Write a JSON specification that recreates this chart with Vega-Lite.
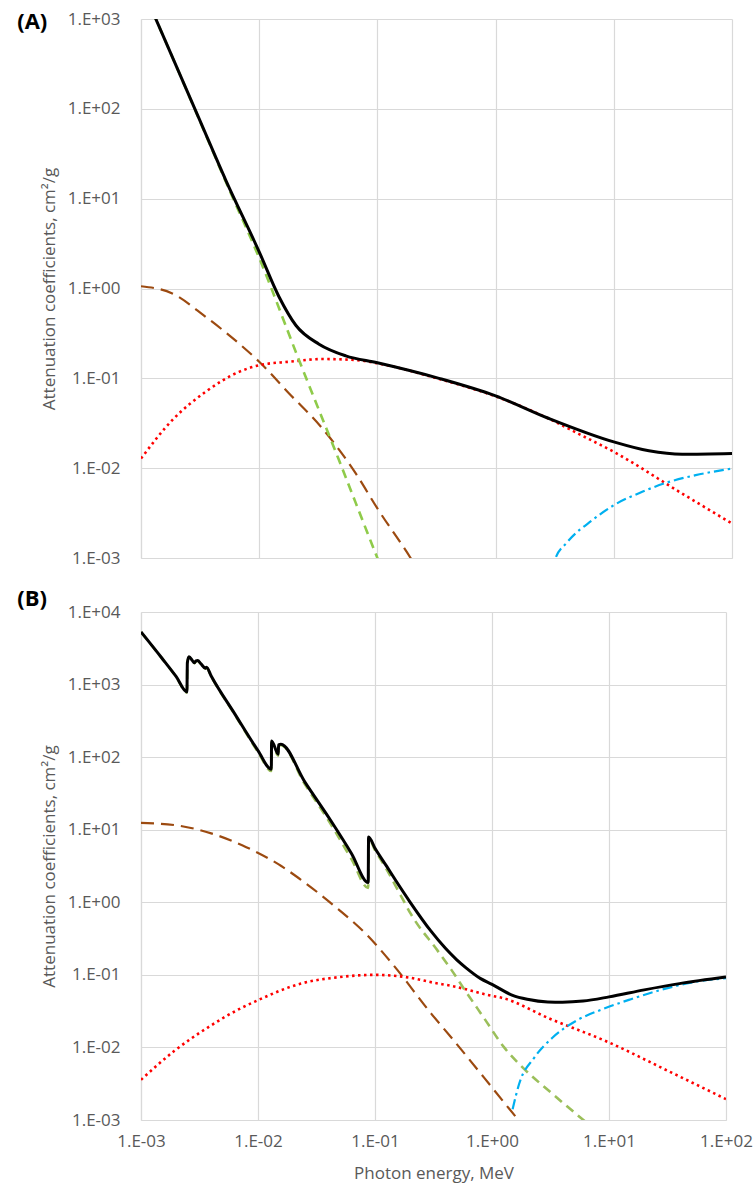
{
  "$schema": "https://vega.github.io/schema/vega-lite/v6.json",
  "padding": {"left": 17, "top": 10, "right": 0, "bottom": 5},
  "spacing": 22,
  "resolve": {"scale": {"x": "independent", "y": "independent"}},
  "config": {
    "font": "Open Sans",
    "view": {"stroke": null},
    "axis": {
      "gridColor": "#d9d9d9", "gridWidth": 1.2, "domainColor": "#d9d9d9", "domainWidth": 1.2,
      "ticks": false, "tickSize": 0, "labelColor": "#595959", "labelFontSize": 17, "labelFont": "Open Sans",
      "titleFont": "Open Sans", "titleColor": "#595959", "titleFontSize": 17, "titleFontWeight": "normal",
      "labelOverlap": false, "labelFlush": false
    }
  },
  "datasets": {
    "curves": [
      {"p": "A", "s": "tot", "E": 0.001, "mu": 2400},
      {"p": "A", "s": "tot", "E": 0.00316, "mu": 73.5},
      {"p": "A", "s": "tot", "E": 0.00521, "mu": 16.1},
      {"p": "A", "s": "tot", "E": 0.01, "mu": 2.56},
      {"p": "A", "s": "tot", "E": 0.0147, "mu": 0.81},
      {"p": "A", "s": "tot", "E": 0.0204, "mu": 0.39},
      {"p": "A", "s": "tot", "E": 0.0321, "mu": 0.24},
      {"p": "A", "s": "tot", "E": 0.054, "mu": 0.178},
      {"p": "A", "s": "tot", "E": 0.1, "mu": 0.149},
      {"p": "A", "s": "tot", "E": 0.332, "mu": 0.1},
      {"p": "A", "s": "tot", "E": 1, "mu": 0.0638},
      {"p": "A", "s": "tot", "E": 2.83, "mu": 0.0357},
      {"p": "A", "s": "tot", "E": 10, "mu": 0.0196},
      {"p": "A", "s": "tot", "E": 19.8, "mu": 0.0156},
      {"p": "A", "s": "tot", "E": 37.9, "mu": 0.0143},
      {"p": "A", "s": "tot", "E": 100, "mu": 0.0146},

      {"p": "A", "s": "inc", "E": 0.001, "mu": 0.0128},
      {"p": "A", "s": "inc", "E": 0.00184, "mu": 0.0343},
      {"p": "A", "s": "inc", "E": 0.00352, "mu": 0.0708},
      {"p": "A", "s": "inc", "E": 0.00675, "mu": 0.118},
      {"p": "A", "s": "inc", "E": 0.01, "mu": 0.14},
      {"p": "A", "s": "inc", "E": 0.0179, "mu": 0.153},
      {"p": "A", "s": "inc", "E": 0.0342, "mu": 0.164},
      {"p": "A", "s": "inc", "E": 0.0656, "mu": 0.16},
      {"p": "A", "s": "inc", "E": 0.1, "mu": 0.147},
      {"p": "A", "s": "inc", "E": 0.332, "mu": 0.0985},
      {"p": "A", "s": "inc", "E": 1, "mu": 0.063},
      {"p": "A", "s": "inc", "E": 3, "mu": 0.0342},
      {"p": "A", "s": "inc", "E": 5.01, "mu": 0.0242},
      {"p": "A", "s": "inc", "E": 10, "mu": 0.0152},
      {"p": "A", "s": "inc", "E": 37.8, "mu": 0.00522},
      {"p": "A", "s": "inc", "E": 100, "mu": 0.00242},

      {"p": "A", "s": "coh", "E": 0.001, "mu": 1.06},
      {"p": "A", "s": "coh", "E": 0.00184, "mu": 0.881},
      {"p": "A", "s": "coh", "E": 0.00352, "mu": 0.484},
      {"p": "A", "s": "coh", "E": 0.00675, "mu": 0.244},
      {"p": "A", "s": "coh", "E": 0.01, "mu": 0.153},
      {"p": "A", "s": "coh", "E": 0.0179, "mu": 0.0679},
      {"p": "A", "s": "coh", "E": 0.0342, "mu": 0.0277},
      {"p": "A", "s": "coh", "E": 0.0656, "mu": 0.00873},
      {"p": "A", "s": "coh", "E": 0.1, "mu": 0.00356},
      {"p": "A", "s": "coh", "E": 0.191, "mu": 0.001},
      {"p": "A", "s": "coh", "E": 0.251, "mu": 0.00056},

      {"p": "A", "s": "pe", "E": 0.001, "mu": 2390},
      {"p": "A", "s": "pe", "E": 0.00316, "mu": 72.4},
      {"p": "A", "s": "pe", "E": 0.00521, "mu": 15.5},
      {"p": "A", "s": "pe", "E": 0.01, "mu": 2.19},
      {"p": "A", "s": "pe", "E": 0.0217, "mu": 0.16},
      {"p": "A", "s": "pe", "E": 0.0473, "mu": 0.0123},
      {"p": "A", "s": "pe", "E": 0.1, "mu": 0.001},
      {"p": "A", "s": "pe", "E": 0.126, "mu": 0.00047},

      {"p": "A", "s": "pp", "E": 2.9, "mu": 0.00062},
      {"p": "A", "s": "pp", "E": 3.2, "mu": 0.00098},
      {"p": "A", "s": "pp", "E": 4.0, "mu": 0.00148},
      {"p": "A", "s": "pp", "E": 6.58, "mu": 0.00264},
      {"p": "A", "s": "pp", "E": 10, "mu": 0.00387},
      {"p": "A", "s": "pp", "E": 17.4, "mu": 0.00545},
      {"p": "A", "s": "pp", "E": 29.3, "mu": 0.00703},
      {"p": "A", "s": "pp", "E": 49.3, "mu": 0.00836},
      {"p": "A", "s": "pp", "E": 100, "mu": 0.00991},

      {"p": "B", "s": "tot", "E": 0.001, "mu": 5310},
      {"p": "B", "s": "tot", "E": 0.0015, "mu": 2340},
      {"p": "B", "s": "tot", "E": 0.002, "mu": 1285},
      {"p": "B", "s": "tot", "E": 0.00247, "mu": 791},
      {"p": "B", "s": "tot", "E": 0.00249, "mu": 2000},
      {"p": "B", "s": "tot", "E": 0.00257, "mu": 2420},
      {"p": "B", "s": "tot", "E": 0.00275, "mu": 2140},
      {"p": "B", "s": "tot", "E": 0.00285, "mu": 1995},
      {"p": "B", "s": "tot", "E": 0.00295, "mu": 2113},
      {"p": "B", "s": "tot", "E": 0.00305, "mu": 2138},
      {"p": "B", "s": "tot", "E": 0.00324, "mu": 1950},
      {"p": "B", "s": "tot", "E": 0.00355, "mu": 1679},
      {"p": "B", "s": "tot", "E": 0.00363, "mu": 1738},
      {"p": "B", "s": "tot", "E": 0.00398, "mu": 1312},
      {"p": "B", "s": "tot", "E": 0.00631, "mu": 398},
      {"p": "B", "s": "tot", "E": 0.01, "mu": 123},
      {"p": "B", "s": "tot", "E": 0.013, "mu": 68.2},
      {"p": "B", "s": "tot", "E": 0.01306, "mu": 167},
      {"p": "B", "s": "tot", "E": 0.0149, "mu": 110},
      {"p": "B", "s": "tot", "E": 0.015, "mu": 148},
      {"p": "B", "s": "tot", "E": 0.0157, "mu": 151},
      {"p": "B", "s": "tot", "E": 0.0251, "mu": 45.7},
      {"p": "B", "s": "tot", "E": 0.0421, "mu": 13.2},
      {"p": "B", "s": "tot", "E": 0.0631, "mu": 4.68},
      {"p": "B", "s": "tot", "E": 0.0875, "mu": 1.87},
      {"p": "B", "s": "tot", "E": 0.0881, "mu": 7.96},
      {"p": "B", "s": "tot", "E": 0.1, "mu": 5.55},
      {"p": "B", "s": "tot", "E": 0.126, "mu": 3.12},
      {"p": "B", "s": "tot", "E": 0.15, "mu": 2.01},
      {"p": "B", "s": "tot", "E": 0.2, "mu": 1.0},
      {"p": "B", "s": "tot", "E": 0.3, "mu": 0.403},
      {"p": "B", "s": "tot", "E": 0.4, "mu": 0.232},
      {"p": "B", "s": "tot", "E": 0.5, "mu": 0.161},
      {"p": "B", "s": "tot", "E": 0.6, "mu": 0.125},
      {"p": "B", "s": "tot", "E": 0.8, "mu": 0.0887},
      {"p": "B", "s": "tot", "E": 1, "mu": 0.074},
      {"p": "B", "s": "tot", "E": 1.5, "mu": 0.0522},
      {"p": "B", "s": "tot", "E": 2, "mu": 0.0461},
      {"p": "B", "s": "tot", "E": 3, "mu": 0.0423},
      {"p": "B", "s": "tot", "E": 4, "mu": 0.042},
      {"p": "B", "s": "tot", "E": 6, "mu": 0.0435},
      {"p": "B", "s": "tot", "E": 10, "mu": 0.0497},
      {"p": "B", "s": "tot", "E": 20, "mu": 0.0621},
      {"p": "B", "s": "tot", "E": 40, "mu": 0.0757},
      {"p": "B", "s": "tot", "E": 100, "mu": 0.0931},

      {"p": "B", "s": "pe", "E": 0.001, "mu": 5290},
      {"p": "B", "s": "pe", "E": 0.0015, "mu": 2330},
      {"p": "B", "s": "pe", "E": 0.002, "mu": 1275},
      {"p": "B", "s": "pe", "E": 0.00247, "mu": 780},
      {"p": "B", "s": "pe", "E": 0.00249, "mu": 1980},
      {"p": "B", "s": "pe", "E": 0.00257, "mu": 2400},
      {"p": "B", "s": "pe", "E": 0.00275, "mu": 2115},
      {"p": "B", "s": "pe", "E": 0.00285, "mu": 1970},
      {"p": "B", "s": "pe", "E": 0.00295, "mu": 2090},
      {"p": "B", "s": "pe", "E": 0.00305, "mu": 2115},
      {"p": "B", "s": "pe", "E": 0.00324, "mu": 1925},
      {"p": "B", "s": "pe", "E": 0.00355, "mu": 1655},
      {"p": "B", "s": "pe", "E": 0.00363, "mu": 1715},
      {"p": "B", "s": "pe", "E": 0.00398, "mu": 1295},
      {"p": "B", "s": "pe", "E": 0.00631, "mu": 390},
      {"p": "B", "s": "pe", "E": 0.01, "mu": 118},
      {"p": "B", "s": "pe", "E": 0.013, "mu": 64.5},
      {"p": "B", "s": "pe", "E": 0.01306, "mu": 162},
      {"p": "B", "s": "pe", "E": 0.0149, "mu": 105},
      {"p": "B", "s": "pe", "E": 0.015, "mu": 143},
      {"p": "B", "s": "pe", "E": 0.0157, "mu": 146},
      {"p": "B", "s": "pe", "E": 0.0251, "mu": 42.5},
      {"p": "B", "s": "pe", "E": 0.0421, "mu": 11.8},
      {"p": "B", "s": "pe", "E": 0.0631, "mu": 3.9},
      {"p": "B", "s": "pe", "E": 0.0875, "mu": 1.58},
      {"p": "B", "s": "pe", "E": 0.0881, "mu": 7.6},
      {"p": "B", "s": "pe", "E": 0.1, "mu": 5.25},
      {"p": "B", "s": "pe", "E": 0.126, "mu": 2.82},
      {"p": "B", "s": "pe", "E": 0.167, "mu": 1.22},
      {"p": "B", "s": "pe", "E": 0.203, "mu": 0.685},
      {"p": "B", "s": "pe", "E": 0.344, "mu": 0.214},
      {"p": "B", "s": "pe", "E": 0.447, "mu": 0.119},
      {"p": "B", "s": "pe", "E": 0.579, "mu": 0.0635},
      {"p": "B", "s": "pe", "E": 0.859, "mu": 0.0251},
      {"p": "B", "s": "pe", "E": 1.27, "mu": 0.01},
      {"p": "B", "s": "pe", "E": 1.89, "mu": 0.00502},
      {"p": "B", "s": "pe", "E": 3.19, "mu": 0.00239},
      {"p": "B", "s": "pe", "E": 6.15, "mu": 0.000977},
      {"p": "B", "s": "pe", "E": 7.94, "mu": 0.0007},

      {"p": "B", "s": "coh", "E": 0.001, "mu": 12.4},
      {"p": "B", "s": "coh", "E": 0.002, "mu": 11.5},
      {"p": "B", "s": "coh", "E": 0.00398, "mu": 8.91},
      {"p": "B", "s": "coh", "E": 0.00794, "mu": 5.75},
      {"p": "B", "s": "coh", "E": 0.0158, "mu": 3.16},
      {"p": "B", "s": "coh", "E": 0.0233, "mu": 2.04},
      {"p": "B", "s": "coh", "E": 0.0449, "mu": 0.891},
      {"p": "B", "s": "coh", "E": 0.0865, "mu": 0.347},
      {"p": "B", "s": "coh", "E": 0.146, "mu": 0.132},
      {"p": "B", "s": "coh", "E": 0.301, "mu": 0.0295},
      {"p": "B", "s": "coh", "E": 0.447, "mu": 0.0138},
      {"p": "B", "s": "coh", "E": 0.859, "mu": 0.0038},
      {"p": "B", "s": "coh", "E": 1.27, "mu": 0.00174},
      {"p": "B", "s": "coh", "E": 2.0, "mu": 0.00071},

      {"p": "B", "s": "inc", "E": 0.001, "mu": 0.00358},
      {"p": "B", "s": "inc", "E": 0.00193, "mu": 0.00897},
      {"p": "B", "s": "inc", "E": 0.00372, "mu": 0.0188},
      {"p": "B", "s": "inc", "E": 0.00716, "mu": 0.0348},
      {"p": "B", "s": "inc", "E": 0.00931, "mu": 0.0425},
      {"p": "B", "s": "inc", "E": 0.0233, "mu": 0.0759},
      {"p": "B", "s": "inc", "E": 0.0501, "mu": 0.0933},
      {"p": "B", "s": "inc", "E": 0.1, "mu": 0.1},
      {"p": "B", "s": "inc", "E": 0.2, "mu": 0.0912},
      {"p": "B", "s": "inc", "E": 0.321, "mu": 0.0776},
      {"p": "B", "s": "inc", "E": 0.447, "mu": 0.0706},
      {"p": "B", "s": "inc", "E": 1, "mu": 0.0514},
      {"p": "B", "s": "inc", "E": 1.19, "mu": 0.0486},
      {"p": "B", "s": "inc", "E": 3.19, "mu": 0.0245},
      {"p": "B", "s": "inc", "E": 10, "mu": 0.0117},
      {"p": "B", "s": "inc", "E": 31.6, "mu": 0.00479},
      {"p": "B", "s": "inc", "E": 100, "mu": 0.00194},

      {"p": "B", "s": "pp", "E": 1.5, "mu": 0.00141},
      {"p": "B", "s": "pp", "E": 1.71, "mu": 0.00318},
      {"p": "B", "s": "pp", "E": 2.3, "mu": 0.00726},
      {"p": "B", "s": "pp", "E": 3.3, "mu": 0.0137},
      {"p": "B", "s": "pp", "E": 5.22, "mu": 0.0232},
      {"p": "B", "s": "pp", "E": 8.83, "mu": 0.0337},
      {"p": "B", "s": "pp", "E": 15.4, "mu": 0.0462},
      {"p": "B", "s": "pp", "E": 26.1, "mu": 0.0603},
      {"p": "B", "s": "pp", "E": 50.2, "mu": 0.0783},
      {"p": "B", "s": "pp", "E": 100, "mu": 0.0902}
    ]
  },
  "vconcat": [
    {
      "width": 591,
      "height": 539,
      "title": {"text": "(A)", "anchor": "start", "frame": "bounds", "fontSize": 22, "fontWeight": "bold", "color": "black", "font": "Open Sans", "offset": 0, "dx": -23, "dy": 24},
      "data": {"name": "curves"},
      "transform": [{"filter": "datum.p === 'A'"}],
      "encoding": {
        "x": {"field": "E", "type": "quantitative", "scale": {"type": "log", "domain": [0.001, 100], "nice": false},
              "axis": {"values": [0.001, 0.01, 0.1, 1, 10, 100], "labels": false, "title": null, "grid": true}},
        "y": {"field": "mu", "type": "quantitative", "scale": {"type": "log", "domain": [0.001, 1000], "nice": false},
              "axis": {"values": [0.001, 0.01, 0.1, 1, 10, 100, 1000], "grid": true, "labelPadding": 21,
                       "labelExpr": "'1.E' + (datum.value >= 1 ? '+' : '-') + '0' + abs(round(log(datum.value) / LN10))",
                       "title": "Attenuation coefficients, cm²/g", "titlePadding": 9}}
      },
      "layer": [
        {"transform": [{"filter": "datum.s === 'coh'"}], "mark": {"type": "line", "clip": true, "interpolate": "monotone", "color": "#9C4A10", "strokeWidth": 2.2, "strokeDash": [13, 7]}},
        {"transform": [{"filter": "datum.s === 'inc'"}], "mark": {"type": "line", "clip": true, "interpolate": "monotone", "color": "#FF0000", "strokeWidth": 2.6, "strokeDash": [2.5, 3.5]}},
        {"transform": [{"filter": "datum.s === 'pe'"}], "mark": {"type": "line", "clip": true, "interpolate": "monotone", "color": "#8FCB4A", "strokeWidth": 2.6, "strokeDash": [9, 6]}},
        {"transform": [{"filter": "datum.s === 'pp'"}], "mark": {"type": "line", "clip": true, "interpolate": "monotone", "color": "#00B0F0", "strokeWidth": 2.2, "strokeDash": [10, 4, 2.5, 4]}},
        {"transform": [{"filter": "datum.s === 'tot'"}], "mark": {"type": "line", "clip": true, "interpolate": "monotone", "color": "black", "strokeWidth": 3}},
        {"data": {"values": [{"t": "Carbon"}]}, "mark": {"type": "text", "fontSize": 18, "color": "black", "font": "Open Sans", "align": "center", "baseline": "middle"},
         "encoding": {"x": {"datum": 31.7}, "y": {"datum": 171}, "text": {"field": "t"}}}
      ]
    },
    {
      "width": 585,
      "height": 508,
      "title": {"text": "(B)", "anchor": "start", "frame": "bounds", "fontSize": 22, "fontWeight": "bold", "color": "black", "font": "Open Sans", "offset": -8, "dx": -23},
      "data": {"name": "curves"},
      "transform": [{"filter": "datum.p === 'B'"}],
      "encoding": {
        "x": {"field": "E", "type": "quantitative", "scale": {"type": "log", "domain": [0.001, 100], "nice": false},
              "axis": {"values": [0.001, 0.01, 0.1, 1, 10, 100], "grid": true, "labelPadding": 13,
                       "labelExpr": "'1.E' + (datum.value >= 1 ? '+' : '-') + '0' + abs(round(log(datum.value) / LN10))",
                       "title": "Photon energy, MeV", "titlePadding": 16}},
        "y": {"field": "mu", "type": "quantitative", "scale": {"type": "log", "domain": [0.001, 10000], "nice": false},
              "axis": {"values": [0.001, 0.01, 0.1, 1, 10, 100, 1000, 10000], "grid": true, "labelPadding": 21,
                       "labelExpr": "'1.E' + (datum.value >= 1 ? '+' : '-') + '0' + abs(round(log(datum.value) / LN10))",
                       "title": "Attenuation coefficients, cm²/g", "titlePadding": 9}}
      },
      "layer": [
        {"transform": [{"filter": "datum.s === 'coh'"}], "mark": {"type": "line", "clip": true, "interpolate": "monotone", "color": "#9C4A10", "strokeWidth": 2.2, "strokeDash": [13, 7]}},
        {"transform": [{"filter": "datum.s === 'inc'"}], "mark": {"type": "line", "clip": true, "interpolate": "monotone", "color": "#FF0000", "strokeWidth": 2.6, "strokeDash": [2.5, 3.5]}},
        {"transform": [{"filter": "datum.s === 'pe'"}], "mark": {"type": "line", "clip": true, "interpolate": "monotone", "color": "#9BBF5A", "strokeWidth": 2.6, "strokeDash": [9, 6]}},
        {"transform": [{"filter": "datum.s === 'pp'"}], "mark": {"type": "line", "clip": true, "interpolate": "monotone", "color": "#00B0F0", "strokeWidth": 2.2, "strokeDash": [10, 4, 2.5, 4]}},
        {"transform": [{"filter": "datum.s === 'tot'"}], "mark": {"type": "line", "clip": true, "interpolate": "monotone", "color": "black", "strokeWidth": 3}},
        {"data": {"values": [{"t": "Lead"}]}, "mark": {"type": "text", "fontSize": 18, "color": "black", "font": "Open Sans", "align": "center", "baseline": "middle"},
         "encoding": {"x": {"datum": 24.7}, "y": {"datum": 2400}, "text": {"field": "t"}}}
      ]
    }
  ]
}
